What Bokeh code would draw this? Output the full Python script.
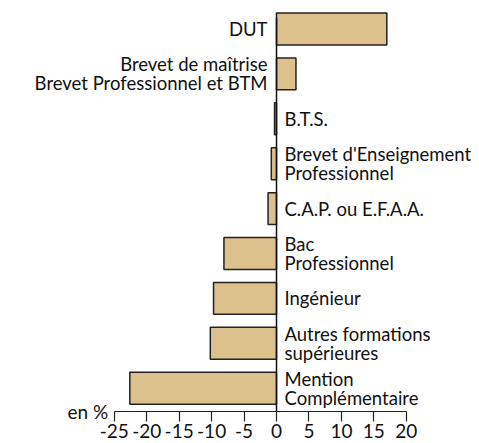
from bokeh.plotting import figure
from bokeh.models import Range1d, FixedTicker, Label, ColumnDataSource
from bokeh.core.properties import value
from bokeh.embed import file_html
from bokeh.resources import INLINE

categories = [
    "DUT",
    "Brevet de maîtrise\nBrevet Professionnel et BTM",
    "B.T.S.",
    "Brevet d'Enseignement\nProfessionnel",
    "C.A.P. ou E.F.A.A.",
    "Bac\nProfessionnel",
    "Ingénieur",
    "Autres formations\nsupérieures",
    "Mention\nComplémentaire",
]
values = [17.0, 3.0, -0.3, -0.8, -1.3, -8.1, -9.7, -10.2, -22.6]
tick_values = [-25, -20, -15, -10, -5, 0, 5, 10, 15, 20]
tick_labels = ["-25", "-20", "-15", "-10", "-5", "0", "5", "10", "15", "20"]
unit_label = "en %"

FONT = "Lato"
W, H = 479, 443
px_per_unit = 6.49
zero_px = 276
xs = -zero_px / px_per_unit
xe = (W - zero_px) / px_per_unit

n = len(categories)
idx = list(range(n))

row_px = 44.9
first_px = 28.5
y_top = -first_px / row_px
y_bottom = (H - first_px) / row_px
axis_y = (411 - first_px) / row_px
line_top = (17 - first_px) / row_px

p = figure(width=W, height=H, output_backend="svg", toolbar_location=None,
           x_range=Range1d(xs, xe), y_range=Range1d(y_bottom, y_top),
           min_border_left=0, min_border_right=0, min_border_top=0,
           min_border_bottom=0)
p.outline_line_color = None
p.grid.visible = False
p.yaxis.visible = False

src = ColumnDataSource(dict(
    y=idx, v=values, label=categories,
    align=["right" if v > 0 else "left" for v in values],
    xoff=[-9 if v > 0 else 8 for v in values],
    zero=[0] * n,
))

p.hbar(y="y", left="zero", right="v", height=0.71, source=src,
       fill_color="#dcc18c", line_color="#222222", line_width=1.5)

p.segment(x0=[0], y0=[line_top], x1=[0], y1=[axis_y],
          line_color="#111111", line_width=1.5)

p.text(x="zero", y="y", text="label", source=src, x_offset="xoff",
       text_align="align", text_baseline="middle", text_font=value(FONT),
       text_font_size="18.5px", text_color="#111111", text_line_height=0.87)

ax = p.xaxis[0]
ax.fixed_location = axis_y
ax.ticker = FixedTicker(ticks=tick_values)
ax.major_label_overrides = {t: s for t, s in zip(tick_values, tick_labels)}
ax.bounds = (tick_values[0], tick_values[-1])
ax.minor_tick_line_color = None
ax.major_tick_in = 0
ax.major_tick_out = 10
ax.major_label_standoff = 2
ax.major_label_text_font = FONT
ax.major_label_text_font_size = "19px"
ax.major_label_text_color = "#111111"
ax.axis_line_color = "#222222"
ax.axis_line_width = 1.2
ax.major_tick_line_color = "#222222"
ax.major_tick_line_width = 1.2

p.add_layout(Label(x=tick_values[0], y=axis_y, text=unit_label, x_offset=-6,
                   text_align="right", text_baseline="middle",
                   text_font=FONT, text_font_size="19px", text_color="#111111"))

open("out.html", "w").write(file_html(p, INLINE))
